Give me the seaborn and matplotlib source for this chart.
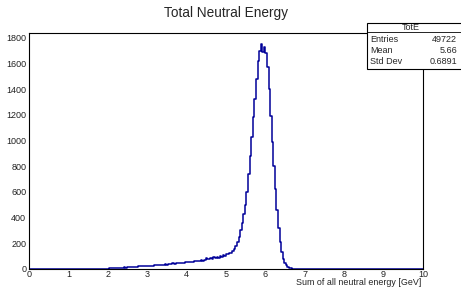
import matplotlib
matplotlib.use("Agg")
import matplotlib.pyplot as plt
from matplotlib.patches import Rectangle
from matplotlib.lines import Line2D
from matplotlib.ticker import MultipleLocator
import numpy as np
import pandas as pd
import seaborn as sns

# histogram: 250 bins from 0 to 10 GeV, counts
n_bins = 250
x_lo, x_hi = 0.0, 10.0
first_bin = 40  # bins before this are empty (starts at 1.6 GeV)
counts = [
    0, 1, 0, 1, 1, 1, 2, 1, 2, 3,                                  # 1.6 - 2.0
    3, 4, 4, 6, 5, 7, 8, 9, 9, 11,                                 # 2.0 - 2.4
    12, 11, 14, 13, 15, 17, 16, 18, 17, 20,                        # 2.4 - 2.8
    21, 20, 23, 24, 22, 26, 25, 27, 26, 29,                        # 2.8 - 3.2
    28, 31, 30, 33, 32, 35, 37, 34, 38, 40,                        # 3.2 - 3.6
    39, 43, 41, 45, 44, 48, 46, 50, 49, 53,                        # 3.6 - 4.0
    51, 55, 53, 58, 56, 61, 59, 64, 62, 68,                        # 4.0 - 4.4
    66, 72, 88, 74, 79, 85, 77, 90, 83, 95,                        # 4.4 - 4.8
    88, 105, 94, 112, 102,                                         # 4.8 - 5.0
    115, 118, 122, 128, 138, 155, 180, 210, 250, 300,              # 5.0 - 5.4
    360, 430, 500, 600, 740, 880, 1030, 1180, 1320, 1480,          # 5.4 - 5.8
    1620, 1700, 1748, 1690, 1725, 1680, 1570, 1400, 1190, 990,     # 5.8 - 6.2
    800, 620, 460, 320, 210, 130, 80, 48, 30, 18,                  # 6.2 - 6.6
    10, 5, 2, 1,                                                   # 6.6 - 6.76
]
title = "Total Neutral Energy"
x_label = "Sum of all neutral energy [GeV]"
stats_name = "TotE"
stats_rows = [("Entries", "49722"), ("Mean", "5.66"), ("Std Dev", "0.6891")]

edges = np.linspace(x_lo, x_hi, n_bins + 1)
centers = 0.5 * (edges[:-1] + edges[1:])
all_counts = np.zeros(n_bins)
all_counts[first_bin:first_bin + len(counts)] = counts
df = pd.DataFrame({"energy": centers, "n": all_counts})

sns.set_style("white")
plt.rcParams["font.family"] = ["Liberation Sans", "DejaVu Sans"]

W, H = 461, 290
fig = plt.figure(figsize=(W / 100, H / 100), dpi=100)
ax = fig.add_axes([29 / W, 1 - 269 / H, (423 - 29) / W, (269 - 33) / H])

sns.histplot(data=df, x="energy", weights="n", bins=n_bins, binrange=(x_lo, x_hi),
             element="step", fill=False, color="#000099", linewidth=1.1, ax=ax)

ax.set_xlim(x_lo, x_hi)
ax.set_ylim(0, 1837)
ax.set_xlabel("")
ax.set_ylabel("")
for s in ax.spines.values():
    s.set_color("black")
    s.set_linewidth(0.8)

ax.xaxis.set_major_locator(MultipleLocator(1))
ax.xaxis.set_minor_locator(MultipleLocator(0.2))
ax.yaxis.set_major_locator(MultipleLocator(200))
ax.yaxis.set_minor_locator(MultipleLocator(40))
ax.tick_params(axis="both", which="both", direction="in", color="black",
               labelsize=6.5, labelcolor="#222222", width=0.7)
ax.tick_params(axis="x", which="major", length=5, pad=1)
ax.tick_params(axis="x", which="minor", length=2.5)
ax.tick_params(axis="y", which="major", length=8.5, pad=2)
ax.tick_params(axis="y", which="minor", length=4.3)

fig.text(226 / W, 1 - 13 / H, title, ha="center", va="center", fontsize=9.8)
fig.text(421 / W, 1 - 282.5 / H, x_label, ha="right", va="center",
         fontsize=6.4, color="#222222")

# stats box
bx0, by0, by1 = 367, 23, 69
fig.add_artist(Rectangle((bx0 / W, 1 - by1 / H), (W - bx0 + 2) / W, (by1 - by0) / H,
                         transform=fig.transFigure, facecolor="white",
                         edgecolor="black", linewidth=0.8, zorder=5))
fig.add_artist(Line2D([bx0 / W, 1.0], [1 - 32 / H, 1 - 32 / H],
                      transform=fig.transFigure, color="black", linewidth=0.6, zorder=6))
fig.text(411 / W, 1 - 27.5 / H, stats_name, ha="center", va="center",
         fontsize=6.5, zorder=7)
for i, (k, v) in enumerate(stats_rows):
    yy = 1 - (39.5 + i * 11) / H
    fig.text(370 / W, yy, k, ha="left", va="center", fontsize=6.5, zorder=7)
    fig.text(457 / W, yy, v, ha="right", va="center", fontsize=6.5, zorder=7)

fig.savefig("out.png", dpi=100)
